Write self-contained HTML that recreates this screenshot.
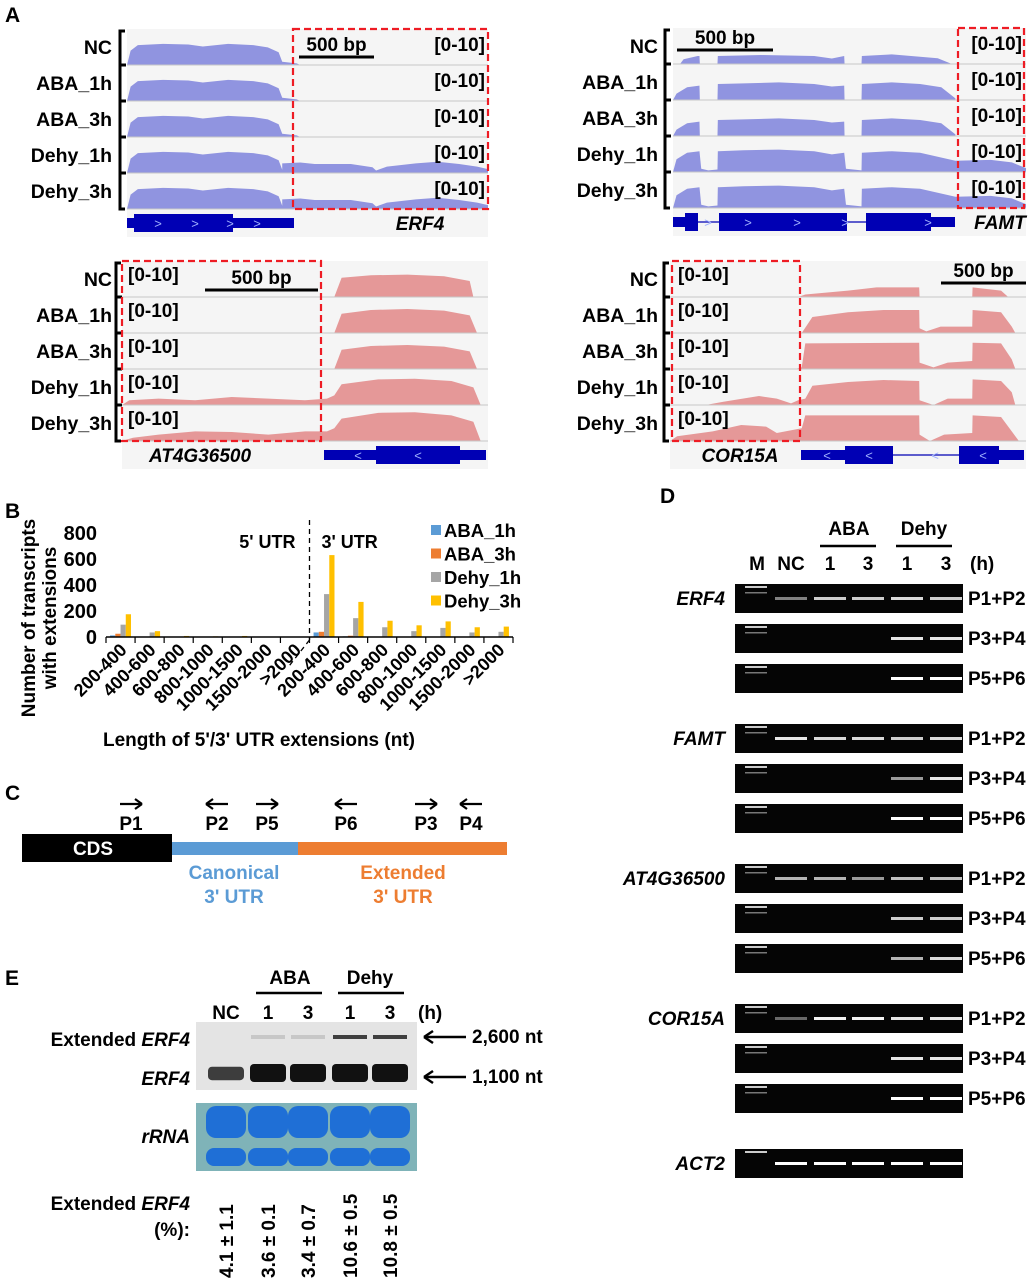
<!DOCTYPE html>
<html><head><meta charset="utf-8">
<style>
body{margin:0;background:#fff;}
svg{display:block;font-family:"Liberation Sans",Arial,sans-serif;font-weight:bold;}
</style></head>
<body>
<svg id="fig" width="1032" height="1280" viewBox="0 0 1032 1280" xmlns="http://www.w3.org/2000/svg">
<text x="5" y="22" font-size="21">A</text>
<text x="5" y="518" font-size="21">B</text>
<text x="5" y="800" font-size="21">C</text>
<text x="5" y="985" font-size="21">E</text>
<text x="660" y="503" font-size="21">D</text>
<g id="gA"></g><g id="gB"></g><g id="gC"></g><g id="gD"></g><g id="gE"></g>
</svg>
<script>
// ===== Panel B data =====
const categories5 = ["200-400","400-600","600-800","800-1000","1000-1500","1500-2000",">2000"];
const categories3 = ["200-400","400-600","600-800","800-1000","1000-1500","1500-2000",">2000"];
const seriesNames = ["ABA_1h","ABA_3h","Dehy_1h","Dehy_3h"];
const seriesColors = ["#5b9bd5","#ed7d31","#a5a5a5","#ffc000"];
const aba1h = [12,2,0,0,0,0,0, 35,5,2,2,2,1,1];
const aba3h = [25,3,0,0,0,0,0, 40,10,3,3,3,2,2];
const dehy1h = [95,35,3,2,3,1,1, 330,145,75,45,70,35,40];
const dehy3h = [175,45,8,5,8,3,3, 630,270,125,90,120,75,80];
const yTicks = [0,200,400,600,800];

const NS="http://www.w3.org/2000/svg";
function el(parent,tag,attrs,text){const e=document.createElementNS(NS,tag);for(const k in attrs)e.setAttribute(k,attrs[k]);if(text!==undefined)e.textContent=text;parent.appendChild(e);return e;}

// ===== Panel A =====
const gA=document.getElementById('gA');
const rowNames=["NC","ABA_1h","ABA_3h","Dehy_1h","Dehy_3h"];
const erfHead=[[0,0],[0.01,0.45],[0.03,0.62],[0.1,0.66],[0.17,0.64],[0.21,0.58],[0.28,0.66],[0.35,0.62],[0.39,0.55],[0.42,0.4],[0.43,0.1]];
const erfA=erfHead.concat([[0.47,0.05],[0.48,0]]);
const erfD=erfHead.concat([[0.43,0.3],[0.48,0.33],[0.52,0.28],[0.62,0.28],[0.68,0.18],[0.69,0.08],[0.72,0.2],[0.8,0.3],[0.86,0.35],[0.92,0.28],[0.97,0.2],[1,0.12],[1,0]]);
const famBase=[[0,0],[0.01,0.2],[0.04,0.4],[0.075,0.45],[0.076,0],[0.126,0],[0.127,0.5],[0.2,0.52],[0.3,0.55],[0.4,0.5],[0.45,0.42],[0.485,0.45],[0.486,0],[0.534,0],[0.535,0.5],[0.62,0.55],[0.7,0.5],[0.76,0.4],[0.8,0.05],[0.8,0]];
const famNC=[[0.02,0],[0.03,0.15],[0.07,0.25],[0.075,0.25],[0.076,0],[0.126,0],[0.127,0.25],[0.25,0.28],[0.4,0.25],[0.45,0.17],[0.485,0.25],[0.486,0],[0.534,0],[0.535,0.25],[0.62,0.3],[0.75,0.18],[0.79,0]];
const famD=[[0,0],[0.01,0.4],[0.04,0.6],[0.075,0.65],[0.08,0.1],[0.1,0.05],[0.126,0.08],[0.127,0.65],[0.2,0.68],[0.3,0.7],[0.4,0.65],[0.45,0.55],[0.485,0.6],[0.49,0.1],[0.534,0.05],[0.535,0.6],[0.62,0.65],[0.7,0.6],[0.8,0.35],[0.9,0.38],[0.96,0.3],[1,0.12],[1,0]];
const atNC=[[0.58,0],[0.6,0.6],[0.68,0.68],[0.78,0.7],[0.88,0.65],[0.95,0.5],[0.96,0]];
const atA=[[0.58,0],[0.6,0.6],[0.68,0.72],[0.78,0.75],[0.88,0.7],[0.95,0.55],[0.97,0]];
const atD=[[0,0],[0.02,0.15],[0.1,0.2],[0.2,0.15],[0.3,0.25],[0.4,0.2],[0.5,0.15],[0.56,0.2],[0.58,0.3],[0.6,0.65],[0.7,0.8],[0.8,0.82],[0.9,0.75],[0.96,0.55],[0.98,0]];
const atD3=[[0,0],[0.03,0.1],[0.1,0.2],[0.2,0.3],[0.3,0.28],[0.4,0.2],[0.5,0.3],[0.56,0.3],[0.58,0.4],[0.6,0.7],[0.7,0.88],[0.8,0.9],[0.9,0.8],[0.96,0.6],[0.98,0]];
const corNC=[[0.36,0],[0.38,0.08],[0.5,0.2],[0.58,0.3],[0.7,0.3],[0.701,0],[0.849,0],[0.85,0.3],[0.93,0.2],[0.95,0]];
const corA=[[0.37,0],[0.4,0.5],[0.5,0.65],[0.6,0.72],[0.7,0.72],[0.701,0.15],[0.72,0.05],[0.76,0.2],[0.849,0.2],[0.85,0.72],[0.93,0.65],[0.96,0.2],[0.97,0]];
const corA3=[[0.35,0],[0.37,0.05],[0.38,0.8],[0.7,0.82],[0.701,0.2],[0.74,0.05],[0.78,0.2],[0.849,0.25],[0.85,0.82],[0.93,0.8],[0.96,0.3],[0.97,0]];
const corD=[[0.1,0],[0.15,0.1],[0.25,0.28],[0.3,0.2],[0.34,0.05],[0.36,0.15],[0.38,0.2],[0.4,0.6],[0.5,0.72],[0.6,0.78],[0.7,0.75],[0.701,0.15],[0.74,0],[0.78,0.2],[0.849,0.2],[0.85,0.8],[0.93,0.75],[0.96,0.4],[0.97,0]];
const corD3=[[0,0],[0.02,0.15],[0.12,0.3],[0.2,0.5],[0.27,0.45],[0.3,0.25],[0.37,0.4],[0.38,0.8],[0.7,0.8],[0.701,0.2],[0.73,0],[0.77,0.2],[0.849,0.25],[0.85,0.8],[0.93,0.75],[0.96,0.3],[0.98,0]];

function trackPanel(o){
  const g=el(gA,'g',{});
  
  
  const rh=o.rowH, w=o.x1-o.x0;
  el(g,'rect',{x:o.x0,y:o.y0,width:w,height:rh*5+28,fill:'#f5f5f5'});
  el(g,'path',{d:`M${o.bx+5},${o.y0+2}H${o.bx}V${o.y0+rh*5}H${o.bx+5}`,stroke:'#000','stroke-width':3,fill:'none'});
  for(let i=0;i<5;i++){
    const top=o.y0+i*rh, base=top+rh;
    if(i>0) el(g,'line',{x1:o.bx,x2:o.bx+6,y1:top,y2:top,stroke:'#000','stroke-width':3});
    const lab=el(g,'text',{x:o.lx,y:top+rh/2+7,'font-size':19.5,'text-anchor':'end'},rowNames[i]);
    
    
    const pts=o.prof[i];
    let d='M'+(o.x0+pts[0][0]*w)+','+base;
    pts.forEach(p=>{d+=' L'+(o.x0+p[0]*w)+','+(base-p[1]*(rh-4));});
    d+=' L'+(o.x0+pts[pts.length-1][0]*w)+','+base+'Z';
    const cov=el(g,'path',{d:d,fill:o.color});
    
    
    el(g,'line',{x1:o.x0,x2:o.x1,y1:base,y2:base,stroke:'#c8c8c8','stroke-width':1});
    const rng=el(g,'text',{x:o.rx,y:top+(o.rangeLeft?20:22),'font-size':19,'text-anchor':o.rangeLeft?'start':'end'},'[0-10]');
    
    
  }
  const box=el(g,'rect',{x:o.box[0],y:o.y0,width:o.box[1]-o.box[0],height:rh*5,fill:'none',stroke:'#ee1c24','stroke-width':2.2,'stroke-dasharray':'7,4'});
  
  
  el(g,'line',{x1:o.sb[0],x2:o.sb[1],y1:o.sb[2],y2:o.sb[2],stroke:'#000','stroke-width':3});
  const sbt=el(g,'text',{x:(o.sb[0]+o.sb[1])/2,y:o.sb[2]-6,'font-size':19,'text-anchor':'middle'},'500 bp');
  
  
  const gy=o.y0+rh*5+14;
  const gname=el(g,'text',{x:o.gene[0],y:gy+7,'font-size':19,'font-style':'italic','text-anchor':'middle'},o.gene[1]);
  
  
  const gm=el(g,'g',{fill:'#0000b4',stroke:'#0000b4'});
  
  
  o.model.forEach(s=>{
    if(s[0]==='l') el(gm,'line',{x1:s[1],x2:s[2],y1:gy,y2:gy,'stroke-width':1.2});
    else { const hh=s[0]==='t'?10:18; el(gm,'rect',{x:s[1],y:gy-hh/2,width:s[2]-s[1],height:hh,stroke:'none'}); }
  });
  (o.chev||[]).forEach(c=>el(g,'text',{x:c[0],y:gy+5,'font-size':13,fill:'#9fb0ff','text-anchor':'middle','font-weight':'normal'},c[1]));
}
trackPanel({name:'erf4-tracks',x0:127,x1:488,y0:29,rowH:36,bx:120,lx:112,rx:485,color:'#9094e0',
  prof:[erfA,erfA,erfA,erfD,erfD],box:[293,488],sb:[299,374,57],gene:[420,'ERF4'],
  model:[['t',127,134],['e',134,233],['t',233,294]],chev:[[158,'>'],[195,'>'],[230,'>'],[257,'>']]});
trackPanel({name:'famt-tracks',x0:673,x1:1026,y0:28,rowH:36,bx:665,lx:658,rx:1022,color:'#9094e0',
  prof:[famNC,famBase,famBase,famD,famD],box:[958,1024],sb:[677,773,50],gene:[1000,'FAMT'],
  model:[['t',673,685],['e',685,698],['l',698,719],['e',719,847],['l',847,866],['e',866,931],['t',931,955]],chev:[[708,'>'],[748,'>'],[797,'>'],[845,'>'],[928,'>']]});
trackPanel({name:'at4g36500-tracks',x0:122,x1:488,y0:261,rowH:36,bx:116,lx:112,rx:128,rangeLeft:true,color:'#e59898',
  prof:[atNC,atA,atA,atD,atD3],box:[122,321],sb:[205,318,290],gene:[200,'AT4G36500'],
  model:[['t',324,376],['e',376,460],['t',460,486]],chev:[[358,'<'],[418,'<']]});
trackPanel({name:'cor15a-tracks',x0:670,x1:1026,y0:261,rowH:36,bx:664,lx:658,rx:678,rangeLeft:true,color:'#e59898',
  prof:[corNC,corA,corA3,corD,corD3],box:[672,800],sb:[941,1026,283],gene:[740,'COR15A'],
  model:[['t',801,845],['e',845,893],['l',893,959],['e',959,999],['t',999,1024]],chev:[[827,'<'],[869,'<'],[935,'<'],[983,'<']]});

// ===== Panel B chart =====
const gB=document.getElementById('gB');
const pX0=106,pX1=513,pY0=637,pH=104,yMax=800;
const allCats=categories5.concat(categories3);
const nC=allCats.length, cw=(pX1-pX0)/nC;
const yS=v=>pY0-v/yMax*pH;
const xS=i=>pX0+i*cw;
yTicks.forEach(t=>{const tx=el(gB,'text',{x:97,y:yS(t)+7,'font-size':20,'text-anchor':'end'},String(t));
  
  });
const series=[aba1h,aba3h,dehy1h,dehy3h];
const bw=cw*0.18;
series.forEach((s,si)=>{s.forEach((v,i)=>{
  const bx=xS(i)+cw*0.14+si*bw;
  const r=el(gB,'rect',{x:bx,y:yS(v),width:bw,height:pY0-yS(v),fill:seriesColors[si]});
  
  
});});
el(gB,'line',{x1:pX0,x2:pX1,y1:pY0,y2:pY0,stroke:'#000','stroke-width':1.5});
for(let i=0;i<=nC;i++) el(gB,'line',{x1:xS(i),x2:xS(i),y1:pY0,y2:pY0+6,stroke:'#000','stroke-width':1.2});
allCats.forEach((c,i)=>{const cx=xS(i)+cw*0.75;
  const t=el(gB,'text',{x:cx,y:pY0+14,'font-size':18,'text-anchor':'end',transform:`rotate(-45 ${cx} ${pY0+14})`},c);
  
  });
el(gB,'line',{x1:xS(7),x2:xS(7),y1:520,y2:640,stroke:'#000','stroke-width':1.3,'stroke-dasharray':'5,4'});
el(gB,'line',{x1:xS(7),x2:xS(7)-22,y1:640,y2:668,stroke:'#000','stroke-width':1.3,'stroke-dasharray':'5,4'});
el(gB,'text',{x:xS(7)-14,y:548,'font-size':18,'text-anchor':'end'},"5' UTR");
el(gB,'text',{x:xS(7)+12,y:548,'font-size':18},"3' UTR");
seriesNames.forEach((n,i)=>{const ly=532+i*23.5;
  el(gB,'rect',{x:431,y:ly-7,width:10,height:10,fill:seriesColors[i]});
  const t=el(gB,'text',{x:444,y:ly+5,'font-size':18.5},n);
  
  });
const yt1=el(gB,'text',{x:0,y:0,'font-size':19,'text-anchor':'middle',transform:'translate(35,618) rotate(-90)'},'Number of transcripts');


el(gB,'text',{x:0,y:0,'font-size':19,'text-anchor':'middle',transform:'translate(56,618) rotate(-90)'},'with extensions');
const xt=el(gB,'text',{x:259,y:746,'font-size':19,'text-anchor':'middle'},"Length of 5'/3' UTR extensions (nt)");



// ===== Panel C =====
const gC=document.getElementById('gC');
el(gC,'rect',{x:22,y:834,width:150,height:28,fill:'#000'});
el(gC,'text',{x:93,y:855,'font-size':19,fill:'#fff','text-anchor':'middle'},'CDS');
el(gC,'rect',{x:172,y:842,width:126,height:13,fill:'#5b9bd5'});
el(gC,'rect',{x:298,y:842,width:209,height:13,fill:'#ed7d31'});
[[131,1,'P1'],[217,-1,'P2'],[267,1,'P5'],[346,-1,'P6'],[426,1,'P3'],[471,-1,'P4']].forEach(p=>{
  const x=p[0],d=p[1];
  el(gC,'line',{x1:x-11,x2:x+11,y1:804,y2:804,stroke:'#000','stroke-width':2.2});
  el(gC,'path',{d:`M${x+11*d},804 L${x+4*d},799 M${x+11*d},804 L${x+4*d},809`,stroke:'#000','stroke-width':2.2,fill:'none'});
  const t=el(gC,'text',{x:x,y:830,'font-size':19,'text-anchor':'middle'},p[2]);
  
  
});
el(gC,'text',{x:234,y:879,'font-size':19,fill:'#5b9bd5','text-anchor':'middle'},'Canonical');
el(gC,'text',{x:234,y:903,'font-size':19,fill:'#5b9bd5','text-anchor':'middle'},"3' UTR");
el(gC,'text',{x:403,y:879,'font-size':19,fill:'#ed7d31','text-anchor':'middle'},'Extended');
el(gC,'text',{x:403,y:903,'font-size':19,fill:'#ed7d31','text-anchor':'middle'},"3' UTR");

// ===== Panel D gels =====
const gD=document.getElementById('gD');
const laneX=[757,791,830,868,907,946];
const laneLab=['M','NC','1','3','1','3'];
laneLab.forEach((l,i)=>el(gD,'text',{x:laneX[i],y:570,'font-size':19,'text-anchor':'middle'},l));
el(gD,'text',{x:970,y:570,'font-size':19},'(h)');
el(gD,'text',{x:849,y:535,'font-size':19,'text-anchor':'middle'},'ABA');
el(gD,'text',{x:924,y:535,'font-size':19,'text-anchor':'middle'},'Dehy');
el(gD,'line',{x1:820,x2:876,y1:546,y2:546,stroke:'#000','stroke-width':2.5});
el(gD,'line',{x1:896,x2:952,y1:546,y2:546,stroke:'#000','stroke-width':2.5});
const genes=['ERF4','FAMT','AT4G36500','COR15A'];
const bandI=[[0,0.5,0.8,0.8,0.85,0.8],[0,0,0,0,0.9,0.9],[0,0,0,0,1,1],
             [0,0.9,0.85,0.85,0.8,0.85],[0,0,0,0,0.6,0.9],[0,0,0,0,1,1],
             [0,0.7,0.7,0.6,0.75,0.75],[0,0,0,0,0.8,0.8],[0,0,0,0,0.7,0.85],
             [0,0.4,0.95,0.95,0.9,0.9],[0,0,0,0,0.9,0.9],[0,0,0,0,1,1]];
const prim=['P1+P2','P3+P4','P5+P6'];
genes.forEach((gname,gi)=>{
  prim.forEach((p,pi)=>{
    const y=584+gi*140+pi*40;
    const gel=el(gD,'rect',{x:735,y:y,width:228,height:29,fill:'#050505'});
    
    
    el(gD,'rect',{x:745,y:y+2,width:22,height:2,fill:'#ccc'});
    el(gD,'rect',{x:745,y:y+8,width:22,height:1.5,fill:'#777'});
    bandI[gi*3+pi].forEach((v,li)=>{ if(v>0) el(gD,'rect',{x:laneX[li]-16,y:y+13,width:32,height:3,fill:'#fff',opacity:v}); });
    el(gD,'text',{x:968,y:y+21,'font-size':19},p);
  });
  el(gD,'text',{x:725,y:605+gi*140,'font-size':19,'font-style':'italic','text-anchor':'end'},gname);
});
el(gD,'rect',{x:735,y:1149,width:228,height:29,fill:'#050505'});
el(gD,'rect',{x:745,y:1151,width:22,height:2,fill:'#ccc'});
laneX.slice(1).forEach(x=>el(gD,'rect',{x:x-16,y:1162,width:32,height:3,fill:'#fff'}));
el(gD,'text',{x:725,y:1170,'font-size':19,'font-style':'italic','text-anchor':'end'},'ACT2');

// ===== Panel E northern =====
const gE=document.getElementById('gE');
const eX=[226,268,308,350,390];
const eLab=['NC','1','3','1','3'];
const pctLabels=['4.1 ± 1.1','3.6 ± 0.1','3.4 ± 0.7','10.6 ± 0.5','10.8 ± 0.5'];
eLab.forEach((l,i)=>el(gE,'text',{x:eX[i],y:1019,'font-size':19,'text-anchor':'middle'},l));
el(gE,'text',{x:418,y:1019,'font-size':19},'(h)');
el(gE,'text',{x:290,y:984,'font-size':19,'text-anchor':'middle'},'ABA');
el(gE,'text',{x:370,y:984,'font-size':19,'text-anchor':'middle'},'Dehy');
el(gE,'line',{x1:256,x2:322,y1:993,y2:993,stroke:'#000','stroke-width':2.5});
el(gE,'line',{x1:338,x2:404,y1:993,y2:993,stroke:'#000','stroke-width':2.5});
const blot=el(gE,'rect',{x:196,y:1022,width:221,height:68,fill:'#e4e4e4'});


[0.55,1,1,1,1].forEach((v,i)=>el(gE,'rect',{x:eX[i]-18,y:1070-v*6,width:36,height:8+v*10,rx:4,fill:'#111',opacity:0.55+0.45*v}));
[0,0.15,0.15,0.85,0.85].forEach((v,i)=>{ if(v>0) el(gE,'rect',{x:eX[i]-17,y:1035,width:34,height:4,fill:'#222',opacity:v}); });
const ex1=el(gE,'text',{x:190,y:1046,'font-size':19,'text-anchor':'end'},'Extended ');
const ts0=document.createElementNS(NS,'tspan');ts0.textContent='ERF4';ts0.setAttribute('font-style','italic');ex1.appendChild(ts0);
el(gE,'text',{x:190,y:1085,'font-size':19,'text-anchor':'end','font-style':'italic'},'ERF4');
[[1037,'2,600 nt'],[1077,'1,100 nt']].forEach(a=>{
  el(gE,'line',{x1:424,x2:466,y1:a[0],y2:a[0],stroke:'#000','stroke-width':2.5});
  el(gE,'path',{d:`M424,${a[0]} l9,-6 M424,${a[0]} l9,6`,stroke:'#000','stroke-width':2.5});
  el(gE,'text',{x:472,y:a[0]+6,'font-size':19},a[1]);
});
const rr=el(gE,'rect',{x:196,y:1103,width:221,height:68,fill:'#7fb3b8'});


eX.forEach(x=>{el(gE,'rect',{x:x-20,y:1106,width:40,height:32,rx:10,fill:'#1f6fd6'});el(gE,'rect',{x:x-20,y:1148,width:40,height:18,rx:8,fill:'#1f6fd6'});});
el(gE,'text',{x:190,y:1143,'font-size':19,'text-anchor':'end','font-style':'italic'},'rRNA');
const t1=el(gE,'text',{x:190,y:1210,'font-size':19,'text-anchor':'end'},'Extended ');
const ts=document.createElementNS(NS,'tspan');ts.textContent='ERF4';ts.setAttribute('font-style','italic');t1.appendChild(ts);
el(gE,'text',{x:190,y:1236,'font-size':19,'text-anchor':'end'},'(%):');
pctLabels.forEach((p,i)=>{
  const t=el(gE,'text',{x:0,y:0,'font-size':19,'text-anchor':'start',transform:`translate(${eX[i]+7},1278) rotate(-90)`},p);
  
  
});
</script>
</body></html>
